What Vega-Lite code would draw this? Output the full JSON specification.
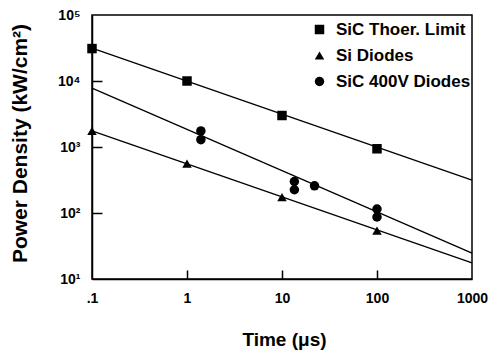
{
  "$schema": "https://vega.github.io/schema/vega-lite/v6.json",
  "width": 380,
  "height": 264,
  "autosize": {"type": "none"},
  "padding": {"left": 92, "top": 15, "right": 19, "bottom": 71},
  "background": "white",
  "config": {
    "font": "Liberation Sans",
    "view": {"stroke": "black", "strokeWidth": 1.5},
    "axis": {"grid": false, "domainColor": "black", "domainWidth": 1.5, "tickColor": "black", "tickWidth": 1.5, "labelColor": "black", "titleColor": "black", "labelFont": "Liberation Sans", "titleFont": "Liberation Sans"}
  },
  "datasets": {
    "points": [
      {"series": "SiC Thoer. Limit", "t": 0.1, "p": 31000},
      {"series": "SiC Thoer. Limit", "t": 1, "p": 10000},
      {"series": "SiC Thoer. Limit", "t": 10, "p": 3000},
      {"series": "SiC Thoer. Limit", "t": 100, "p": 940},
      {"series": "Si Diodes", "t": 0.1, "p": 1750},
      {"series": "Si Diodes", "t": 1, "p": 560},
      {"series": "Si Diodes", "t": 10, "p": 174},
      {"series": "Si Diodes", "t": 100, "p": 54},
      {"series": "SiC 400V Diodes", "t": 1.4, "p": 1750},
      {"series": "SiC 400V Diodes", "t": 1.4, "p": 1290},
      {"series": "SiC 400V Diodes", "t": 13.5, "p": 300},
      {"series": "SiC 400V Diodes", "t": 13.5, "p": 225},
      {"series": "SiC 400V Diodes", "t": 22, "p": 258},
      {"series": "SiC 400V Diodes", "t": 100, "p": 115},
      {"series": "SiC 400V Diodes", "t": 100, "p": 87}
    ],
    "fits": [
      {"series": "SiC Thoer. Limit", "t": 0.1, "p": 31600},
      {"series": "SiC Thoer. Limit", "t": 1000, "p": 316},
      {"series": "Si Diodes", "t": 0.1, "p": 1750},
      {"series": "Si Diodes", "t": 1000, "p": 17.5},
      {"series": "SiC 400V Diodes", "t": 0.1, "p": 7800},
      {"series": "SiC 400V Diodes", "t": 1000, "p": 24.7}
    ]
  },
  "resolve": {"axis": {"x": "independent", "y": "independent"}},
  "layer": [
    {
      "data": {"name": "fits"},
      "mark": {"type": "line", "color": "black", "strokeWidth": 1.3},
      "encoding": {
        "x": {
          "field": "t", "type": "quantitative",
          "scale": {"type": "log", "domain": [0.1, 1000], "nice": false},
          "axis": {"orient": "bottom", "values": [1, 10, 100], "offset": -9, "tickSize": 9, "domain": false, "labels": false, "title": null}
        },
        "y": {
          "field": "p", "type": "quantitative",
          "scale": {"type": "log", "domain": [10, 100000], "nice": false},
          "axis": {"orient": "left", "values": [100, 1000, 10000], "offset": -10, "tickSize": 10, "domain": false, "labels": false, "title": null}
        },
        "detail": {"field": "series"}
      }
    },
    {
      "data": {"name": "points"},
      "mark": {"type": "point", "filled": true, "color": "black", "opacity": 1, "size": 90},
      "encoding": {
        "x": {
          "field": "t", "type": "quantitative",
          "scale": {"type": "log", "domain": [0.1, 1000], "nice": false},
          "axis": {
            "orient": "bottom",
            "values": [0.1, 1, 10, 100, 1000],
            "ticks": false,
            "labelPadding": 12,
            "labelFontSize": 14,
            "labelFontWeight": "bold",
            "labelExpr": "datum.value < 1 ? '.1' : '' + round(datum.value)",
            "labelFlush": false,
            "title": "Time (μs)",
            "titleFontSize": 19,
            "titleFontWeight": "bold",
            "titleX": 192,
            "titleY": 60,
            "titleBaseline": "middle"
          }
        },
        "y": {
          "field": "p", "type": "quantitative",
          "scale": {"type": "log", "domain": [10, 100000], "nice": false},
          "axis": {
            "orient": "left",
            "values": [10, 100, 1000, 10000, 100000],
            "ticks": false,
            "labelPadding": 12,
            "labelFontSize": 14,
            "labelFontWeight": "bold",
            "labelExpr": "'10' + ['⁰','¹','²','³','⁴','⁵'][round(log(datum.value)/LN10)]",
            "labelFlush": false,
            "title": "Power Density (kW/cm²)",
            "titleFontSize": 21,
            "titleFontWeight": "bold",
            "titleX": -72,
            "titleY": 128,
            "titleAngle": -90,
            "titleAlign": "center",
            "titleBaseline": "middle"
          }
        },
        "shape": {
          "field": "series", "type": "nominal",
          "scale": {"domain": ["SiC Thoer. Limit", "Si Diodes", "SiC 400V Diodes"], "range": ["square", "triangle-up", "circle"]},
          "legend": {
            "title": null,
            "orient": "none",
            "legendX": 219,
            "legendY": 6,
            "symbolSize": 90,
            "symbolFillColor": "black",
            "symbolStrokeColor": "black",
            "labelFontSize": 17,
            "labelFontWeight": "bold",
            "labelColor": "black",
            "labelOffset": 8,
            "rowPadding": 8
          }
        }
      }
    }
  ]
}
